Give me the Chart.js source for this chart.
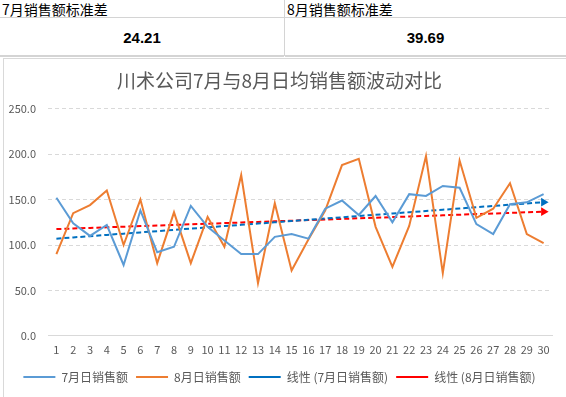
<!DOCTYPE html>
<html>
<head>
<meta charset="utf-8">
<script src="https://cdn.jsdelivr.net/npm/chart.js@4/dist/chart.umd.min.js"></script>
<style>
  body { margin: 0; width: 566px; height: 397px; overflow: hidden; background: #fff; position: relative; font-family: "Noto Sans CJK SC", sans-serif; }
  .hdr { position: absolute; top: 0; height: 18px; border-bottom: 1px solid #d4d4d4; font-size: 14px; line-height: 18px; color: #000; padding-left: 2px; box-sizing: border-box; white-space: nowrap; }
  .val { position: absolute; top: 19px; height: 38px; border-bottom: 2px solid #d4d4d4; font-family: "Liberation Sans", Arial, sans-serif; font-size: 15px; font-weight: bold; line-height: 38px; text-align: center; box-sizing: border-box; }
  .divider { position: absolute; left: 284px; top: 0; width: 1px; height: 56px; background: #d4d4d4; }
  #wrap { position: absolute; left: 3px; top: 58px; width: 580px; height: 345px; border: 1px solid #d9d9d9; box-sizing: border-box; }
  #box { position: absolute; left: 0; top: 0; width: 562px; height: 339px; }
</style>
</head>
<body>
<div class="hdr" style="left:0;width:284px;">7月销售额标准差</div>
<div class="hdr" style="left:285px;width:281px;">8月销售额标准差</div>
<div class="val" style="left:0;width:284px;">24.21</div>
<div class="val" style="left:285px;width:281px;">39.69</div>
<div class="divider"></div>
<div id="wrap"><div id="box"><canvas id="chart"></canvas></div></div>
<script>
// data
const days = ["1","2","3","4","5","6","7","8","9","10","11","12","13","14","15","16","17","18","19","20","21","22","23","24","25","26","27","28","29","30"];
const julySales = [152, 124, 110, 122, 78, 138, 92, 98, 143, 120, 105, 90, 90, 109, 112, 107, 140, 149, 133, 154, 125, 156, 154, 165, 163, 123, 112, 145, 147, 156];
const augSales = [90, 135, 144, 160, 100, 150, 80, 136, 80, 131, 98, 177, 58, 146, 72, 106, 138, 188, 195, 120, 76, 121, 198, 69, 193, 130, 140, 168, 112, 102];
const yTicks = [0, 50, 100, 150, 200, 250];

// Excel-style linear trendline
function trend(values) {
  const n = values.length;
  let sx = 0, sy = 0, sxy = 0, sxx = 0;
  values.forEach((v, i) => {
    const x = i + 1;
    sx += x; sy += v; sxy += x * v; sxx += x * x;
  });
  const b = (n * sxy - sx * sy) / (n * sxx - sx * sx);
  const a = (sy - b * sx) / n;
  return values.map((v, i) => a + b * (i + 1));
}

const arrowRadius = days.map((d, i) => (i === days.length - 1 ? 5 : 0));
const font = "'Noto Sans CJK SC', sans-serif";

new Chart(document.getElementById("chart"), {
  type: "line",
  data: {
    labels: days,
    datasets: [
      {
        label: "7月日销售额",
        data: julySales,
        borderColor: "#5b9bd5",
        backgroundColor: "#5b9bd5",
        borderWidth: 2,
        pointRadius: 0,
        tension: 0,
      },
      {
        label: "8月日销售额",
        data: augSales,
        borderColor: "#ed7d31",
        backgroundColor: "#ed7d31",
        borderWidth: 2,
        pointRadius: 0,
        tension: 0,
      },
      {
        label: "线性 (7月日销售额)",
        data: trend(julySales),
        borderColor: "#0070c0",
        backgroundColor: "#0070c0",
        borderWidth: 2,
        borderDash: [5, 3],
        pointRadius: arrowRadius,
        pointStyle: "triangle",
        rotation: 90,
        pointBorderWidth: 0,
      },
      {
        label: "线性 (8月日销售额)",
        data: trend(augSales),
        borderColor: "#ff0000",
        backgroundColor: "#ff0000",
        borderWidth: 2,
        borderDash: [5, 3],
        pointRadius: arrowRadius,
        pointStyle: "triangle",
        rotation: 90,
        pointBorderWidth: 0,
      },
    ],
  },
  options: {
    responsive: true,
    maintainAspectRatio: false,
    animation: false,
    layout: {
      padding: { left: 3, right: 14, top: 8, bottom: 5 },
    },
    plugins: {
      tooltip: { enabled: false },
      title: {
        display: true,
        text: "川术公司7月与8月日均销售额波动对比",
        color: "#595959",
        font: { family: font, size: 19, weight: "normal" },
        padding: { top: 2, bottom: 17 },
      },
      legend: {
        position: "bottom",
        labels: {
          color: "#595959",
          font: { family: font, size: 12 },
          usePointStyle: true,
          pointStyleWidth: 32,
          boxHeight: 6,
          padding: 8,
          generateLabels: function (chart) {
            const items = Chart.defaults.plugins.legend.labels.generateLabels(chart);
            items.forEach((it) => {
              it.pointStyle = "line";
              it.rotation = 0;
              it.lineWidth = 2;
            });
            return items;
          },
        },
      },
    },
    scales: {
      x: {
        offset: true,
        grid: { display: false, drawTicks: false },
        border: { display: true, color: "#d9d9d9" },
        ticks: {
          color: "#595959",
          font: { family: font, size: 11 },
          maxRotation: 0,
          autoSkip: false,
          padding: 7,
        },
      },
      y: {
        min: 0,
        max: 250,
        afterBuildTicks: function (axis) {
          axis.ticks = yTicks.map((v) => ({ value: v }));
        },
        afterFit: function (axis) {
          axis.width = 41;
        },
        grid: { color: "#d9d9d9", drawTicks: false },
        border: { display: false, dash: [4, 3] },
        ticks: {
          color: "#595959",
          font: { family: font, size: 11 },
          padding: 12,
          callback: function (value) {
            return value.toFixed(1);
          },
        },
      },
    },
  },
});
</script>
</body>
</html>
